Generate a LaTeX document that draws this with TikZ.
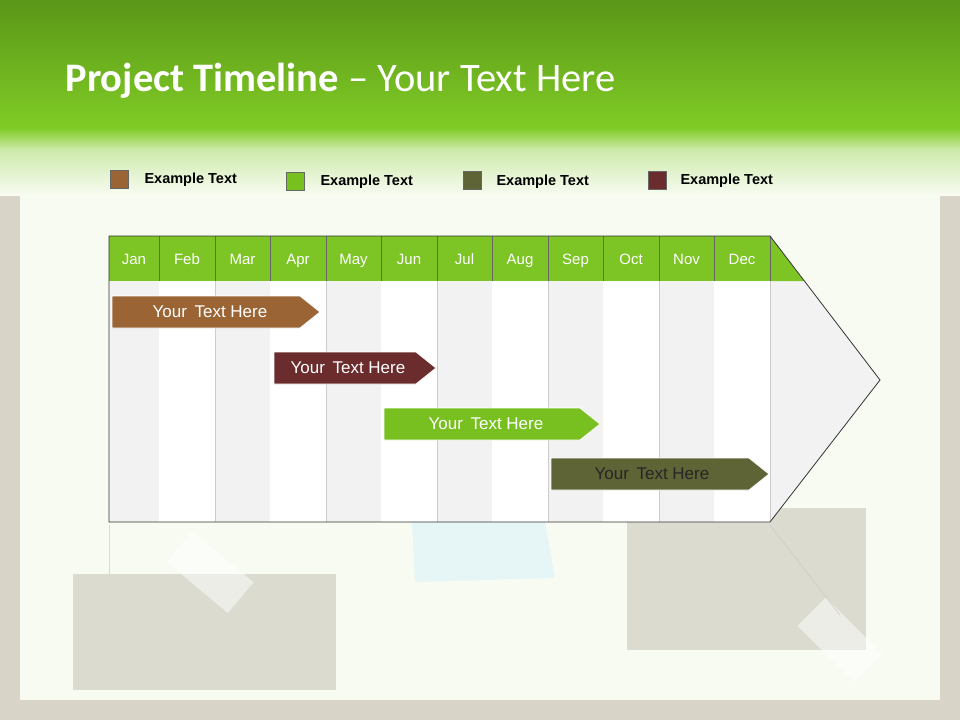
\documentclass[tikz,border=0pt]{standalone}
\usepackage{fontspec}
\setmainfont{Carlito}
\newfontfamily\arialf{Liberation Sans}
\definecolor{hdark}{RGB}{90,150,24}
\definecolor{hlight}{RGB}{128,204,38}
\definecolor{cbrown}{RGB}{154,100,52}
\definecolor{cgreen}{RGB}{120,192,32}
\definecolor{colive}{RGB}{94,100,54}
\definecolor{cmaroon}{RGB}{106,44,44}
\definecolor{mgreen}{RGB}{125,196,37}
\definecolor{paper}{RGB}{248,251,242}
\definecolor{frame}{RGB}{216,212,200}
\definecolor{patch}{RGB}{200,198,184}
\begin{document}
\begin{tikzpicture}[x=1pt,y=-1pt,
  legbox/.style={draw=black!60,line width=0.5pt,minimum size=18pt,inner sep=0pt},
  legtxt/.style={anchor=west,font=\arialf\bfseries\fontsize{14.5}{17}\selectfont},
  mon/.style={text=white,anchor=base,font=\arialf\fontsize{15}{18}\selectfont},
  bartxt/.style={font=\arialf\fontsize{17}{20}\selectfont}]
\useasboundingbox (0,0) rectangle (960,720);
\fill[frame] (0,0) rectangle (960,720);
\fill[paper] (20,128) rectangle (940,700);
% header
\shade[top color=hdark,bottom color=hlight] (0,0) rectangle (960,128);
\shade[top color=hlight,bottom color=hlight!35!paper] (0,128) rectangle (960,150);
\shade[top color=hlight!35!paper,bottom color=paper] (0,150) rectangle (960,195);
\node[anchor=west,text=white,font=\fontsize{40.5}{46}\selectfont] (title) at (62,81) {\textbf{Project Timeline} -- Your Text Here};
% background decor
\fill[patch,opacity=0.6] (73,574) rectangle (336,690);
\fill[patch,opacity=0.6] (627,508) rectangle (866,650);
\fill[white,opacity=0.5,rotate around={-40:(210,572)}] (170,552) rectangle (250,592);
\fill[white,opacity=0.5,rotate around={-45:(840,640)}] (800,620) rectangle (880,660);
\fill[blue!30!cyan!20,opacity=0.4] (412,522) -- (545,522) -- (555,578) -- (415,582) -- cycle;
% legend
\node[legbox,fill=cbrown] (l1) at (119,179) {};
\node[legtxt] (t1) at (141,180) {Example Text};
\node[legbox,fill=cgreen] (l2) at (295,181) {};
\node[legtxt] (t2) at (317,182) {Example Text};
\node[legbox,fill=colive] (l3) at (472,180) {};
\node[legtxt] (t3) at (493,182) {Example Text};
\node[legbox,fill=cmaroon] (l4) at (657,180) {};
\node[legtxt] (t4) at (677,181) {Example Text};
% chart body arrow
\fill[gray!10] (109,236) -- (770,236) -- (880,380) -- (770,522) -- (109,522) -- cycle;
\foreach \a/\b [count=\i] in {109/159,159/215,215/270,270/326,326/381,381/437,437/492,492/548,548/603,603/659,659/714,714/770}{
  \pgfmathparse{mod(\i,2)==0?1:0}
  \ifnum\pgfmathresult=1 \fill[white] (\a,281) rectangle (\b,522);\fi
  \draw[gray!40,line width=0.5pt] (\b,281) -- (\b,522);
}
\fill[mgreen] (109,236) rectangle (770,281);
\fill[mgreen] (770,236) -- (804,281) -- (770,281) -- cycle;
\foreach \a/\b/\m in {109/159/Jan,159/215/Feb,215/270/Mar,270/326/Apr,326/381/May,381/437/Jun,437/492/Jul,492/548/Aug,548/603/Sep,603/659/Oct,659/714/Nov,714/770/Dec}{
  \draw[black!60,line width=0.5pt] (\b,236) -- (\b,281);
  \node[mon] (m\m) at ({(\a+\b)/2},264.5) {\m};
}
\draw[black!80,line width=0.8pt] (109,236) -- (770,236) -- (880,380) -- (770,522) -- (109,522) -- cycle;
% reflection
\draw[gray!30,line width=0.5pt] (109,525) -- (109,620);
\draw[gray!40,line width=0.6pt] (770,525) -- (840,615);
% bars
\foreach \x/\y/\w/\c in {112/296/208/cbrown,274/352/162/cmaroon,384/408/216/cgreen,551/458/218/colive}{
  \filldraw[fill=\c,draw=white,line width=0.8pt] (\x,\y) -- (\x+\w-20,\y) -- (\x+\w,\y+16) -- (\x+\w-20,\y+32) -- (\x,\y+32) -- cycle;
}
\node[bartxt,text=white] (bt1) at (210,312) {Your\, Text Here};
\node[bartxt,text=white] (bt2) at (348,368) {Your\, Text Here};
\node[bartxt,text=white] (bt3) at (486,424) {Your\, Text Here};
\node[bartxt,text=black!85] (bt4) at (652,474) {Your\, Text Here};
\end{tikzpicture}
\end{document}
